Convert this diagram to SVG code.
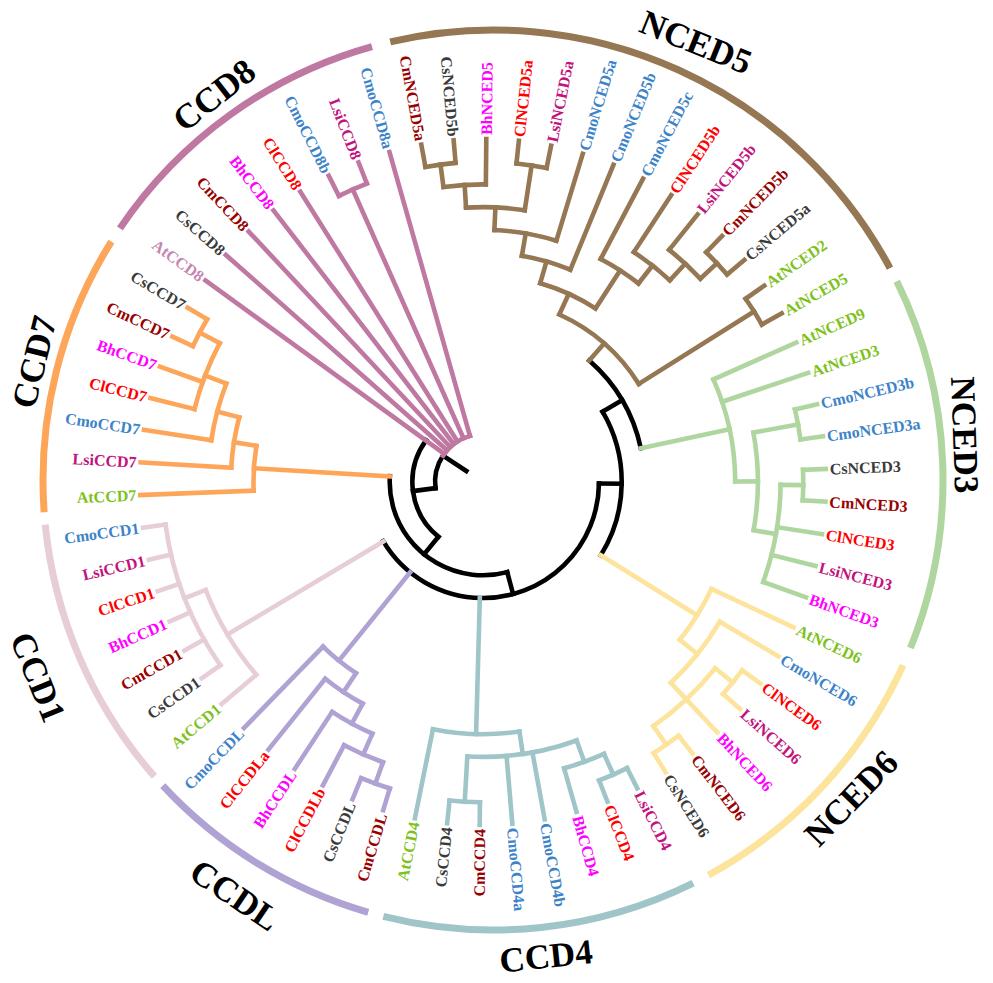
<svg xmlns="http://www.w3.org/2000/svg" width="993" height="983" viewBox="0 0 993 983">
<style>
.br line,.br circle{fill:none;stroke-width:4.6;stroke-linecap:square}
.k{stroke:#000}
.c8{stroke:#bf78a1}
.c5{stroke:#957753}
.c3{stroke:#b0d6a0}
.c6{stroke:#fde49c}
.c4{stroke:#a0c5c9}
.cl{stroke:#b0a2d3}
.c1{stroke:#e7cdd8}
.c7{stroke:#fda65a}
.oa circle{fill:none;stroke-width:7}
.lab text{font-family:"Liberation Serif","Times New Roman",serif;font-weight:bold;font-size:16px}
.at{fill:#7dc11b}.at8{fill:#c586b0}.cmo{fill:#3d83c8}.cm{fill:#990000}.cs{fill:#3a3a3a}.bh{fill:#ff00ff}.clr{fill:#ff0000}.lsi{fill:#c2127d}
.ct{font-family:"Liberation Serif","Times New Roman",serif;font-weight:bold;font-size:35px;fill:#000;text-anchor:middle}
</style>
<rect width="993" height="983" fill="#fff"/>
<g id="connectors" class="br" transform="translate(483 482)">
<g class="k">
<line x1="20" x2="47.9" transform="rotate(213.39)"/>
<circle r="47.9" stroke-dasharray="34.10 5000" transform="rotate(172.6)"/>
<line x1="47.9" x2="70.6" transform="rotate(172.6)"/>
<circle r="70.6" stroke-dasharray="106.95 5000" transform="rotate(129.2)"/>
<line x1="70.6" x2="93.3" transform="rotate(129.2)"/>
<circle r="93.3" stroke-dasharray="176.65 5000" transform="rotate(74.96)"/>
<line x1="93.3" x2="116" transform="rotate(74.96)"/>
<circle r="116" stroke-dasharray="300.55 5000" transform="rotate(0.73)"/>
<line x1="116" x2="138.7" transform="rotate(0.73)"/>
<circle r="138.7" stroke-dasharray="150.96 5000" transform="rotate(-30.45)"/>
<line x1="138.7" x2="161.4" transform="rotate(-30.45)"/>
<circle r="161.4" stroke-dasharray="103.58 5000" transform="rotate(311.16)"/>
</g>
<g class="c8">
<circle r="47.9" stroke-dasharray="34.10 5000" transform="rotate(213.39)"/>
<line x1="47.9" x2="343" transform="rotate(216)"/>
<line x1="47.9" x2="343" transform="rotate(221.45)"/>
<line x1="47.9" x2="343" transform="rotate(226.91)"/>
<line x1="47.9" x2="343" transform="rotate(232.36)"/>
<line x1="47.9" x2="343" transform="rotate(237.82)"/>
<line x1="47.9" x2="343" transform="rotate(254.18)"/>
<line x1="47.9" x2="320.3" transform="rotate(246)"/>
<circle r="320.3" stroke-dasharray="30.52 5000" transform="rotate(243.27)"/>
<line x1="320.3" x2="343" transform="rotate(243.27)"/>
<line x1="320.3" x2="343" transform="rotate(248.73)"/>
</g>
<g class="c5">
<line x1="161.4" x2="184.1" transform="rotate(311.16)"/>
<circle r="184.1" stroke-dasharray="107.06 5000" transform="rotate(294.5)"/>
<line x1="184.1" x2="206.8" transform="rotate(294.5)"/>
<line x1="184.1" x2="320.3" transform="rotate(327.82)"/>
<circle r="320.3" stroke-dasharray="30.52 5000" transform="rotate(325.09)"/>
<line x1="320.3" x2="343" transform="rotate(325.09)"/>
<line x1="320.3" x2="343" transform="rotate(330.55)"/>
<circle r="206.8" stroke-dasharray="60.92 5000" transform="rotate(286.06)"/>
<line x1="206.8" x2="229.5" transform="rotate(286.06)"/>
<line x1="206.8" x2="252.2" transform="rotate(302.94)"/>
<circle r="229.5" stroke-dasharray="50.51 5000" transform="rotate(279.75)"/>
<line x1="229.5" x2="252.2" transform="rotate(279.75)"/>
<line x1="229.5" x2="343" transform="rotate(292.36)"/>
<circle r="252.2" stroke-dasharray="63.03 5000" transform="rotate(272.59)"/>
<line x1="252.2" x2="274.9" transform="rotate(272.59)"/>
<line x1="252.2" x2="343" transform="rotate(286.91)"/>
<circle r="274.9" stroke-dasharray="58.87 5000" transform="rotate(266.46)"/>
<line x1="274.9" x2="297.6" transform="rotate(266.46)"/>
<line x1="274.9" x2="320.3" transform="rotate(278.73)"/>
<circle r="297.6" stroke-dasharray="42.49 5000" transform="rotate(262.37)"/>
<line x1="297.6" x2="320.3" transform="rotate(262.37)"/>
<line x1="297.6" x2="343" transform="rotate(270.55)"/>
<circle r="320.3" stroke-dasharray="30.47 5000" transform="rotate(259.64)"/>
<line x1="320.3" x2="343" transform="rotate(259.64)"/>
<line x1="320.3" x2="343" transform="rotate(265.09)"/>
<circle r="320.3" stroke-dasharray="30.47 5000" transform="rotate(276)"/>
<line x1="320.3" x2="343" transform="rotate(276)"/>
<line x1="320.3" x2="343" transform="rotate(281.45)"/>
<circle r="252.2" stroke-dasharray="45.03 5000" transform="rotate(297.82)"/>
<line x1="252.2" x2="343" transform="rotate(297.82)"/>
<line x1="252.2" x2="274.9" transform="rotate(308.05)"/>
<circle r="274.9" stroke-dasharray="45.82 5000" transform="rotate(303.27)"/>
<line x1="274.9" x2="343" transform="rotate(303.27)"/>
<line x1="274.9" x2="297.6" transform="rotate(312.82)"/>
<circle r="297.6" stroke-dasharray="42.49 5000" transform="rotate(308.73)"/>
<line x1="297.6" x2="343" transform="rotate(308.73)"/>
<line x1="297.6" x2="320.3" transform="rotate(316.91)"/>
<circle r="320.3" stroke-dasharray="30.52 5000" transform="rotate(314.18)"/>
<line x1="320.3" x2="343" transform="rotate(314.18)"/>
<line x1="320.3" x2="343" transform="rotate(319.64)"/>
</g>
<g class="c3">
<line x1="161.4" x2="252.2" transform="rotate(347.93)"/>
<circle r="252.2" stroke-dasharray="105.07 5000" transform="rotate(336)"/>
<line x1="252.2" x2="343" transform="rotate(336)"/>
<line x1="252.2" x2="343" transform="rotate(341.45)"/>
<line x1="252.2" x2="274.9" transform="rotate(359.87)"/>
<circle r="274.9" stroke-dasharray="98.17 5000" transform="rotate(349.64)"/>
<line x1="274.9" x2="320.3" transform="rotate(349.64)"/>
<line x1="274.9" x2="297.6" transform="rotate(10.1)"/>
<circle r="320.3" stroke-dasharray="30.47 5000" transform="rotate(346.91)"/>
<line x1="320.3" x2="343" transform="rotate(346.91)"/>
<line x1="320.3" x2="343" transform="rotate(352.36)"/>
<circle r="297.6" stroke-dasharray="99.16 5000" transform="rotate(0.55)"/>
<line x1="297.6" x2="320.3" transform="rotate(0.55)"/>
<line x1="297.6" x2="343" transform="rotate(8.73)"/>
<line x1="297.6" x2="343" transform="rotate(14.18)"/>
<line x1="297.6" x2="343" transform="rotate(19.64)"/>
<circle r="320.3" stroke-dasharray="30.47 5000" transform="rotate(357.82)"/>
<line x1="320.3" x2="343" transform="rotate(357.82)"/>
<line x1="320.3" x2="343" transform="rotate(3.27)"/>
</g>
<g class="c6">
<line x1="138.7" x2="252.2" transform="rotate(31.91)"/>
<circle r="252.2" stroke-dasharray="60.04 5000" transform="rotate(25.09)"/>
<line x1="252.2" x2="343" transform="rotate(25.09)"/>
<line x1="252.2" x2="274.9" transform="rotate(38.73)"/>
<circle r="274.9" stroke-dasharray="78.49 5000" transform="rotate(30.55)"/>
<line x1="274.9" x2="343" transform="rotate(30.55)"/>
<line x1="274.9" x2="343" transform="rotate(46.91)"/>
<circle r="297.6" stroke-dasharray="84.98 5000" transform="rotate(38.73)"/>
<line x1="297.6" x2="320.3" transform="rotate(38.73)"/>
<line x1="297.6" x2="320.3" transform="rotate(55.09)"/>
<circle r="320.3" stroke-dasharray="30.47 5000" transform="rotate(36)"/>
<line x1="320.3" x2="343" transform="rotate(36)"/>
<line x1="320.3" x2="343" transform="rotate(41.45)"/>
<circle r="320.3" stroke-dasharray="30.52 5000" transform="rotate(52.36)"/>
<line x1="320.3" x2="343" transform="rotate(52.36)"/>
<line x1="320.3" x2="343" transform="rotate(57.82)"/>
</g>
<g class="c4">
<line x1="116" x2="252.2" transform="rotate(91.57)"/>
<circle r="252.2" stroke-dasharray="87.02 5000" transform="rotate(81.68)"/>
<line x1="252.2" x2="343" transform="rotate(101.45)"/>
<line x1="252.2" x2="274.9" transform="rotate(81.68)"/>
<circle r="274.9" stroke-dasharray="111.22 5000" transform="rotate(70.09)"/>
<line x1="274.9" x2="297.6" transform="rotate(70.09)"/>
<line x1="274.9" x2="343" transform="rotate(79.64)"/>
<line x1="274.9" x2="343" transform="rotate(85.09)"/>
<line x1="274.9" x2="320.3" transform="rotate(93.27)"/>
<circle r="297.6" stroke-dasharray="42.49 5000" transform="rotate(66)"/>
<line x1="297.6" x2="320.3" transform="rotate(66)"/>
<line x1="297.6" x2="343" transform="rotate(74.18)"/>
<circle r="320.3" stroke-dasharray="30.52 5000" transform="rotate(63.27)"/>
<line x1="320.3" x2="343" transform="rotate(63.27)"/>
<line x1="320.3" x2="343" transform="rotate(68.73)"/>
<circle r="320.3" stroke-dasharray="30.47 5000" transform="rotate(90.55)"/>
<line x1="320.3" x2="343" transform="rotate(90.55)"/>
<line x1="320.3" x2="343" transform="rotate(96)"/>
</g>
<g class="cl">
<line x1="116" x2="229.5" transform="rotate(128.89)"/>
<circle r="229.5" stroke-dasharray="42.38 5000" transform="rotate(123.6)"/>
<line x1="229.5" x2="343" transform="rotate(134.18)"/>
<line x1="229.5" x2="252.2" transform="rotate(123.6)"/>
<circle r="252.2" stroke-dasharray="45.03 5000" transform="rotate(118.5)"/>
<line x1="252.2" x2="343" transform="rotate(128.73)"/>
<line x1="252.2" x2="274.9" transform="rotate(118.5)"/>
<circle r="274.9" stroke-dasharray="45.77 5000" transform="rotate(113.73)"/>
<line x1="274.9" x2="343" transform="rotate(123.27)"/>
<line x1="274.9" x2="297.6" transform="rotate(113.73)"/>
<circle r="297.6" stroke-dasharray="42.49 5000" transform="rotate(109.64)"/>
<line x1="297.6" x2="343" transform="rotate(117.82)"/>
<line x1="297.6" x2="320.3" transform="rotate(109.64)"/>
<circle r="320.3" stroke-dasharray="30.47 5000" transform="rotate(106.91)"/>
<line x1="320.3" x2="343" transform="rotate(106.91)"/>
<line x1="320.3" x2="343" transform="rotate(112.36)"/>
</g>
<g class="c1">
<line x1="116" x2="297.6" transform="rotate(149.18)"/>
<circle r="297.6" stroke-dasharray="99.16 5000" transform="rotate(139.64)"/>
<line x1="297.6" x2="343" transform="rotate(139.64)"/>
<line x1="297.6" x2="320.3" transform="rotate(158.73)"/>
<circle r="320.3" stroke-dasharray="152.45 5000" transform="rotate(145.09)"/>
<line x1="320.3" x2="343" transform="rotate(145.09)"/>
<line x1="320.3" x2="343" transform="rotate(150.55)"/>
<line x1="320.3" x2="343" transform="rotate(156)"/>
<line x1="320.3" x2="343" transform="rotate(161.45)"/>
<line x1="320.3" x2="343" transform="rotate(166.91)"/>
<line x1="320.3" x2="343" transform="rotate(172.36)"/>
</g>
<g class="c7">
<line x1="93.3" x2="229.5" transform="rotate(183.44)"/>
<circle r="229.5" stroke-dasharray="45.06 5000" transform="rotate(177.82)"/>
<line x1="229.5" x2="343" transform="rotate(177.82)"/>
<line x1="229.5" x2="252.2" transform="rotate(189.07)"/>
<circle r="252.2" stroke-dasharray="51.02 5000" transform="rotate(183.27)"/>
<line x1="252.2" x2="343" transform="rotate(183.27)"/>
<line x1="252.2" x2="274.9" transform="rotate(194.86)"/>
<circle r="274.9" stroke-dasharray="58.87 5000" transform="rotate(188.73)"/>
<line x1="274.9" x2="343" transform="rotate(188.73)"/>
<line x1="274.9" x2="297.6" transform="rotate(201)"/>
<circle r="297.6" stroke-dasharray="70.85 5000" transform="rotate(194.18)"/>
<line x1="297.6" x2="343" transform="rotate(194.18)"/>
<line x1="297.6" x2="343" transform="rotate(199.64)"/>
<line x1="297.6" x2="320.3" transform="rotate(207.82)"/>
<circle r="320.3" stroke-dasharray="30.52 5000" transform="rotate(205.09)"/>
<line x1="320.3" x2="343" transform="rotate(205.09)"/>
<line x1="320.3" x2="343" transform="rotate(210.55)"/>
</g>
</g>
<g id="clade-arcs" class="oa" transform="translate(493 480)">
<circle id="arc-NCED5" r="450" stroke="#957753" stroke-dasharray="589.8 5000" transform="rotate(256.8)"/>
<circle id="arc-NCED3" r="450" stroke="#b0d6a0" stroke-dasharray="377.8 5000" transform="rotate(-26.2)"/>
<circle id="arc-NCED6" r="450" stroke="#fde49c" stroke-dasharray="291.4 5000" transform="rotate(24.3)"/>
<circle id="arc-CCD4" r="450" stroke="#a0c5c9" stroke-dasharray="318.1 5000" transform="rotate(63.6)"/>
<circle id="arc-CCDL" r="450" stroke="#b0a2d3" stroke-dasharray="244.3 5000" transform="rotate(106.1)"/>
<circle id="arc-CCD1" r="450" stroke="#e7cdd8" stroke-dasharray="278.8 5000" transform="rotate(138.8)"/>
<circle id="arc-CCD7" r="450" stroke="#fda65a" stroke-dasharray="283.5 5000" transform="rotate(175.9)"/>
<circle id="arc-CCD8" r="450" stroke="#bf78a1" stroke-dasharray="317.3 5000" transform="rotate(214)"/>
</g>
<g id="leaves" class="lab" transform="translate(483 482)">
<g id="AtCCD8"><text class="at8" x="-347" dy=".35em" text-anchor="end" transform="rotate(36)">AtCCD8</text></g>
<g id="CsCCD8"><text class="cs" x="-347" dy=".35em" text-anchor="end" transform="rotate(41.45)">CsCCD8</text></g>
<g id="CmCCD8"><text class="cm" x="-347" dy=".35em" text-anchor="end" transform="rotate(46.91)">CmCCD8</text></g>
<g id="BhCCD8"><text class="bh" x="-347" dy=".35em" text-anchor="end" transform="rotate(52.36)">BhCCD8</text></g>
<g id="ClCCD8"><text class="clr" x="-347" dy=".35em" text-anchor="end" transform="rotate(57.82)">ClCCD8</text></g>
<g id="CmoCCD8b"><text class="cmo" x="-347" dy=".35em" text-anchor="end" transform="rotate(63.27)">CmoCCD8b</text></g>
<g id="LsiCCD8"><text class="lsi" x="-347" dy=".35em" text-anchor="end" transform="rotate(68.73)">LsiCCD8</text></g>
<g id="CmoCCD8a"><text class="cmo" x="-347" dy=".35em" text-anchor="end" transform="rotate(74.18)">CmoCCD8a</text></g>
<g id="CmNCED5a"><text class="cm" x="-347" dy=".35em" text-anchor="end" transform="rotate(79.64)">CmNCED5a</text></g>
<g id="CsNCED5b"><text class="cs" x="-347" dy=".35em" text-anchor="end" transform="rotate(85.09)">CsNCED5b</text></g>
<g id="BhNCED5"><text class="bh" x="347" dy=".35em" transform="rotate(270.55)">BhNCED5</text></g>
<g id="ClNCED5a"><text class="clr" x="347" dy=".35em" transform="rotate(276)">ClNCED5a</text></g>
<g id="LsiNCED5a"><text class="lsi" x="347" dy=".35em" transform="rotate(281.45)">LsiNCED5a</text></g>
<g id="CmoNCED5a"><text class="cmo" x="347" dy=".35em" transform="rotate(286.91)">CmoNCED5a</text></g>
<g id="CmoNCED5b"><text class="cmo" x="347" dy=".35em" transform="rotate(292.36)">CmoNCED5b</text></g>
<g id="CmoNCED5c"><text class="cmo" x="347" dy=".35em" transform="rotate(297.82)">CmoNCED5c</text></g>
<g id="ClNCED5b"><text class="clr" x="347" dy=".35em" transform="rotate(303.27)">ClNCED5b</text></g>
<g id="LsiNCED5b"><text class="lsi" x="347" dy=".35em" transform="rotate(308.73)">LsiNCED5b</text></g>
<g id="CmNCED5b"><text class="cm" x="347" dy=".35em" transform="rotate(314.18)">CmNCED5b</text></g>
<g id="CsNCED5a"><text class="cs" x="347" dy=".35em" transform="rotate(319.64)">CsNCED5a</text></g>
<g id="AtNCED2"><text class="at" x="347" dy=".35em" transform="rotate(325.09)">AtNCED2</text></g>
<g id="AtNCED5"><text class="at" x="347" dy=".35em" transform="rotate(330.55)">AtNCED5</text></g>
<g id="AtNCED9"><text class="at" x="347" dy=".35em" transform="rotate(336)">AtNCED9</text></g>
<g id="AtNCED3"><text class="at" x="347" dy=".35em" transform="rotate(341.45)">AtNCED3</text></g>
<g id="CmoNCED3b"><text class="cmo" x="347" dy=".35em" transform="rotate(346.91)">CmoNCED3b</text></g>
<g id="CmoNCED3a"><text class="cmo" x="347" dy=".35em" transform="rotate(352.36)">CmoNCED3a</text></g>
<g id="CsNCED3"><text class="cs" x="347" dy=".35em" transform="rotate(357.82)">CsNCED3</text></g>
<g id="CmNCED3"><text class="cm" x="347" dy=".35em" transform="rotate(3.27)">CmNCED3</text></g>
<g id="ClNCED3"><text class="clr" x="347" dy=".35em" transform="rotate(8.73)">ClNCED3</text></g>
<g id="LsiNCED3"><text class="lsi" x="347" dy=".35em" transform="rotate(14.18)">LsiNCED3</text></g>
<g id="BhNCED3"><text class="bh" x="347" dy=".35em" transform="rotate(19.64)">BhNCED3</text></g>
<g id="AtNCED6"><text class="at" x="347" dy=".35em" transform="rotate(25.09)">AtNCED6</text></g>
<g id="CmoNCED6"><text class="cmo" x="347" dy=".35em" transform="rotate(30.55)">CmoNCED6</text></g>
<g id="ClNCED6"><text class="clr" x="347" dy=".35em" transform="rotate(36)">ClNCED6</text></g>
<g id="LsiNCED6"><text class="lsi" x="347" dy=".35em" transform="rotate(41.45)">LsiNCED6</text></g>
<g id="BhNCED6"><text class="bh" x="347" dy=".35em" transform="rotate(46.91)">BhNCED6</text></g>
<g id="CmNCED6"><text class="cm" x="347" dy=".35em" transform="rotate(52.36)">CmNCED6</text></g>
<g id="CsNCED6"><text class="cs" x="347" dy=".35em" transform="rotate(57.82)">CsNCED6</text></g>
<g id="LsiCCD4"><text class="lsi" x="347" dy=".35em" transform="rotate(63.27)">LsiCCD4</text></g>
<g id="ClCCD4"><text class="clr" x="347" dy=".35em" transform="rotate(68.73)">ClCCD4</text></g>
<g id="BhCCD4"><text class="bh" x="347" dy=".35em" transform="rotate(74.18)">BhCCD4</text></g>
<g id="CmoCCD4b"><text class="cmo" x="347" dy=".35em" transform="rotate(79.64)">CmoCCD4b</text></g>
<g id="CmoCCD4a"><text class="cmo" x="347" dy=".35em" transform="rotate(85.09)">CmoCCD4a</text></g>
<g id="CmCCD4"><text class="cm" x="-347" dy=".35em" text-anchor="end" transform="rotate(-89.45)">CmCCD4</text></g>
<g id="CsCCD4"><text class="cs" x="-347" dy=".35em" text-anchor="end" transform="rotate(-84)">CsCCD4</text></g>
<g id="AtCCD4"><text class="at" x="-347" dy=".35em" text-anchor="end" transform="rotate(-78.55)">AtCCD4</text></g>
<g id="CmCCDL"><text class="cm" x="-347" dy=".35em" text-anchor="end" transform="rotate(-73.09)">CmCCDL</text></g>
<g id="CsCCDL"><text class="cs" x="-347" dy=".35em" text-anchor="end" transform="rotate(-67.64)">CsCCDL</text></g>
<g id="ClCCDLb"><text class="clr" x="-347" dy=".35em" text-anchor="end" transform="rotate(-62.18)">ClCCDLb</text></g>
<g id="BhCCDL"><text class="bh" x="-347" dy=".35em" text-anchor="end" transform="rotate(-56.73)">BhCCDL</text></g>
<g id="ClCCDLa"><text class="clr" x="-347" dy=".35em" text-anchor="end" transform="rotate(-51.27)">ClCCDLa</text></g>
<g id="CmoCCDL"><text class="cmo" x="-347" dy=".35em" text-anchor="end" transform="rotate(-45.82)">CmoCCDL</text></g>
<g id="AtCCD1"><text class="at" x="-347" dy=".35em" text-anchor="end" transform="rotate(-40.36)">AtCCD1</text></g>
<g id="CsCCD1"><text class="cs" x="-347" dy=".35em" text-anchor="end" transform="rotate(-34.91)">CsCCD1</text></g>
<g id="CmCCD1"><text class="cm" x="-347" dy=".35em" text-anchor="end" transform="rotate(-29.45)">CmCCD1</text></g>
<g id="BhCCD1"><text class="bh" x="-347" dy=".35em" text-anchor="end" transform="rotate(-24)">BhCCD1</text></g>
<g id="ClCCD1"><text class="clr" x="-347" dy=".35em" text-anchor="end" transform="rotate(-18.55)">ClCCD1</text></g>
<g id="LsiCCD1"><text class="lsi" x="-347" dy=".35em" text-anchor="end" transform="rotate(-13.09)">LsiCCD1</text></g>
<g id="CmoCCD1"><text class="cmo" x="-347" dy=".35em" text-anchor="end" transform="rotate(-7.64)">CmoCCD1</text></g>
<g id="AtCCD7"><text class="at" x="-347" dy=".35em" text-anchor="end" transform="rotate(-2.18)">AtCCD7</text></g>
<g id="LsiCCD7"><text class="lsi" x="-347" dy=".35em" text-anchor="end" transform="rotate(3.27)">LsiCCD7</text></g>
<g id="CmoCCD7"><text class="cmo" x="-347" dy=".35em" text-anchor="end" transform="rotate(8.73)">CmoCCD7</text></g>
<g id="ClCCD7"><text class="clr" x="-347" dy=".35em" text-anchor="end" transform="rotate(14.18)">ClCCD7</text></g>
<g id="BhCCD7"><text class="bh" x="-347" dy=".35em" text-anchor="end" transform="rotate(19.64)">BhCCD7</text></g>
<g id="CmCCD7"><text class="cm" x="-347" dy=".35em" text-anchor="end" transform="rotate(25.09)">CmCCD7</text></g>
<g id="CsCCD7"><text class="cs" x="-347" dy=".35em" text-anchor="end" transform="rotate(30.55)">CsCCD7</text></g>
</g>
<g id="clade-labels">
<g id="label-NCED5"><text class="ct" dy=".34em" transform="translate(696 42) rotate(22)">NCED5</text></g>
<g id="label-NCED3"><text class="ct" dy=".34em" transform="translate(965 435) rotate(88)">NCED3</text></g>
<g id="label-NCED6"><text class="ct" dy=".34em" transform="translate(851 798) rotate(-46)">NCED6</text></g>
<g id="label-CCD4"><text class="ct" dy=".34em" transform="translate(546 956) rotate(-6)">CCD4</text></g>
<g id="label-CCDL"><text class="ct" dy=".34em" transform="translate(235 895) rotate(34)">CCDL</text></g>
<g id="label-CCD1"><text class="ct" dy=".34em" transform="translate(38 677) rotate(68)">CCD1</text></g>
<g id="label-CCD7"><text class="ct" dy=".34em" transform="translate(34 362) rotate(-76)">CCD7</text></g>
<g id="label-CCD8"><text class="ct" dy=".34em" transform="translate(214 95) rotate(-38)">CCD8</text></g>
</g>
</svg>
